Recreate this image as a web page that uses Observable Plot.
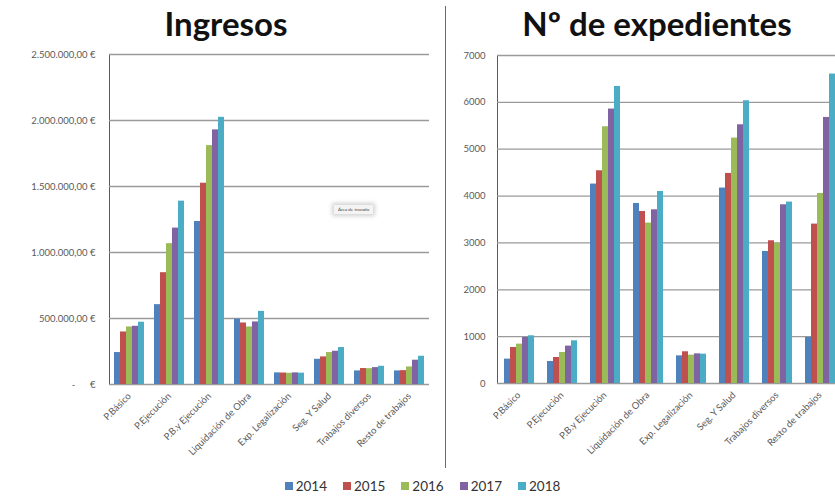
<!DOCTYPE html>
<html>
<head>
<meta charset="utf-8">
<script src="https://cdn.jsdelivr.net/npm/d3@7"></script>
<script src="https://cdn.jsdelivr.net/npm/@observablehq/plot@0.6"></script>
<style>
  html, body { margin: 0; padding: 0; background: #fff; }
  #wrap { position: relative; width: 835px; height: 498px; overflow: hidden; background: #fff; font-family: Lato, "Open Sans", sans-serif; }
  .title { position: absolute; top: 3px; font-weight: 700; font-size: 33px; color: #111; text-align: center; white-space: nowrap; }
  #divider { position: absolute; left: 445px; top: 6px; width: 1px; height: 462px; background: #6a6a6a; }
  #left, #right { position: absolute; top: 0; }
  #left { left: 0; width: 440px; }
  #right { left: 446px; width: 400px; }
  #left svg, #right svg { max-width: none !important; }
  #legend { position: absolute; left: 0; width: 835px; top: 478px; display: flex; justify-content: center; gap: 16px; font-size: 13.5px; color: #333; padding-left: 10px; box-sizing: border-box; }
  #legend span.item { display: flex; align-items: center; gap: 3px; }
  #legend span.sw { display: inline-block; width: 8px; height: 8px; }
  #tip { position: absolute; left: 334px; top: 205px; font-size: 4.5px; color: #444; background: #f4f4f4; padding: 2px 4px; box-shadow: 0 0 4px 2px rgba(0,0,0,0.18); }
</style>
</head>
<body>
<div id="wrap">
  <div class="title" style="left:126px;width:200px;">Ingresos</div>
  <div class="title" style="left:497px;width:320px;">Nº de expedientes</div>
  <div id="divider"></div>
  <div id="left"></div>
  <div id="right"></div>
  <div id="tip">Área de trazado</div>
  <div id="legend"></div>
</div>
<script>
// ---- data ----
const categories = ["P.Básico", "P.Ejecución", "P.B.y Ejecución", "Liquidación de Obra", "Exp. Legalización", "Seg. Y Salud", "Trabajos diversos", "Resto de trabajos"];
const years = ["2014", "2015", "2016", "2017", "2018"];
const colors = ["#4F81BD", "#C0504D", "#9BBB59", "#8064A2", "#4BACC6"];

const ingresos2014 = [242000, 605000, 1235000, 495000, 88000, 191000, 103000, 103000];
const ingresos2015 = [398000, 847000, 1525000, 466000, 87000, 209000, 121000, 105000];
const ingresos2016 = [436000, 1067000, 1810000, 436000, 85000, 242000, 120000, 133000];
const ingresos2017 = [441000, 1185000, 1929000, 474000, 88000, 252000, 128000, 184000];
const ingresos2018 = [472000, 1389000, 2024000, 554000, 86000, 280000, 138000, 214000];

const expedientes2014 = [520, 470, 4256, 3842, 590, 4171, 2818, 985];
const expedientes2015 = [768, 555, 4540, 3671, 677, 4483, 3046, 3402];
const expedientes2016 = [840, 662, 5479, 3424, 605, 5238, 2996, 4056];
const expedientes2017 = [982, 798, 5857, 3707, 633, 5522, 3814, 5678];
const expedientes2018 = [1018, 911, 6339, 4098, 626, 6034, 3872, 6604];

const ingresosTicks = [0, 500000, 1000000, 1500000, 2000000, 2500000];
const expedientesTicks = [0, 1000, 2000, 3000, 4000, 5000, 6000, 7000];

// ---- build tables ----
const ingresosSeries = [ingresos2014, ingresos2015, ingresos2016, ingresos2017, ingresos2018];
const expedientesSeries = [expedientes2014, expedientes2015, expedientes2016, expedientes2017, expedientes2018];
const toRows = series => years.flatMap((yr, i) => categories.map((c, j) => ({cat: c, year: yr, value: series[i][j]})));
const ingresosRows = toRows(ingresosSeries);
const expedientesRows = toRows(expedientesSeries);

const loc = d3.formatLocale({decimal: ",", thousands: ".", grouping: [3], currency: ["", " €"]});
const fmtEuro = loc.format(",.2f");
const euroTick = d => d === 0 ? "-\u00a0\u00a0\u00a0\u00a0\u00a0\u00a0€" : fmtEuro(d) + " €";

function chart(rows, ticks, domain, tickFmt, opts) {
  return Plot.plot({
    width: opts.width,
    height: 470,
    marginLeft: opts.marginLeft,
    marginRight: opts.marginRight,
    marginTop: opts.marginTop,
    marginBottom: opts.marginBottom,
    style: {fontFamily: "Lato, 'Open Sans', sans-serif", fontSize: "9.5px", color: "#5a5a5a", background: "transparent"},
    fx: {domain: categories, padding: 0, axis: "bottom", tickRotate: -45, label: null, tickSize: 0, tickPadding: 10},
    x: {domain: years, axis: null, paddingInner: 0, paddingOuter: opts.outer},
    y: {domain, ticks, tickFormat: tickFmt, label: null, tickSize: 0, tickPadding: opts.tickPadding, line: true},
    color: {domain: years, range: colors},
    marks: [
      Plot.ruleY(ticks, {stroke: "#9a9a9a", strokeWidth: 1.3}),
      Plot.barY(rows, {fx: "cat", x: "year", y: "value", fill: "year"})
    ]
  });
}

document.getElementById("left").appendChild(
  chart(ingresosRows, ingresosTicks, [0, 2500000], euroTick,
    {width: 440, marginLeft: 105, marginRight: 8, marginTop: 54, marginBottom: 86, outer: 0.7, tickPadding: 14})
);
document.getElementById("right").appendChild(
  chart(expedientesRows, expedientesTicks, [0, 7000], d => String(d),
    {width: 400, marginLeft: 49, marginRight: 4, marginTop: 55, marginBottom: 87, outer: 0.76, tickPadding: 12})
);

// ---- legend ----
const legend = document.getElementById("legend");
years.forEach((yr, i) => {
  const item = document.createElement("span");
  item.className = "item";
  const sw = document.createElement("span");
  sw.className = "sw";
  sw.style.background = colors[i];
  item.appendChild(sw);
  item.appendChild(document.createTextNode(yr));
  legend.appendChild(item);
});
</script>
</body>
</html>
